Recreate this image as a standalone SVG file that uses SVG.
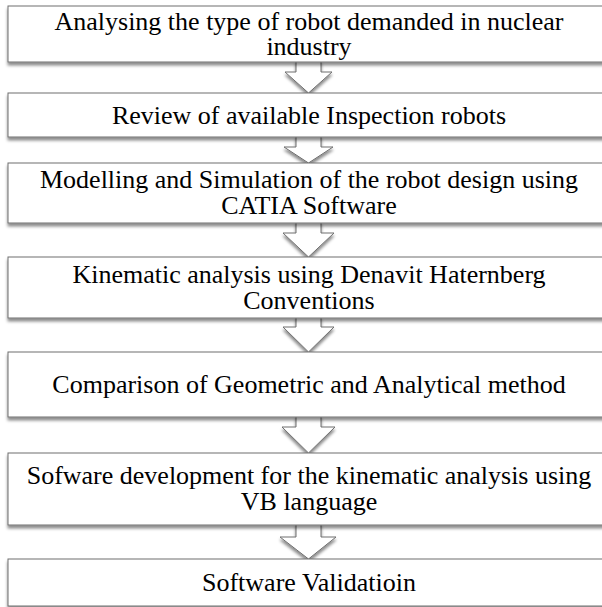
<svg xmlns="http://www.w3.org/2000/svg" width="602" height="607" viewBox="0 0 602 607">
<defs>
<filter id="sh" x="-10%" y="-20%" width="120%" height="160%">
<feDropShadow dx="0" dy="3" stdDeviation="1.8" flood-color="#000" flood-opacity="0.45"/>
</filter>
<style>
.box{fill:#fff;stroke:#6e6e6e;stroke-width:1;filter:url(#sh)}
.arr{fill:#fff;stroke:#6e6e6e;stroke-width:1;filter:url(#sh)}
.t{font-family:"Liberation Serif","Times New Roman",serif;font-size:26px;fill:#000;text-anchor:middle}
</style>
</defs>
<rect width="602" height="607" fill="#fff"/>
<g id="connectors">
<path class="arr" d="M296,60 V72 H285 L308.5,93 L332,72 H321 V60"/>
<path class="arr" d="M296,135 V147 H284 L308.5,163 L333,147 H321 V135"/>
<path class="arr" d="M296,221 V233 H283 L308.5,257 L334,233 H321 V221"/>
<path class="arr" d="M296,316 V327 H283 L308.5,352 L334,327 H321 V316"/>
<path class="arr" d="M296,415 V427 H282 L308.5,453 L335,427 H321 V415"/>
<path class="arr" d="M296,523 V537 H280 L308.5,559 L336,537 H321 V523"/>
</g>
<g id="n1"><rect class="box" x="8" y="6" width="602" height="56"/><text class="t" x="309" y="30">Analysing the type of robot demanded in nuclear</text><text class="t" x="309" y="55">industry</text></g>
<g id="n2"><rect class="box" x="8" y="93" width="602" height="44"/><text class="t" x="309" y="124">Review of available Inspection robots</text></g>
<g id="n3"><rect class="box" x="8" y="163" width="602" height="60"/><text class="t" x="309" y="188">Modelling and Simulation of the robot design using</text><text class="t" x="309" y="214">CATIA Software</text></g>
<g id="n4"><rect class="box" x="8" y="257" width="602" height="61"/><text class="t" x="309" y="283">Kinematic analysis using Denavit Haternberg</text><text class="t" x="309" y="309">Conventions</text></g>
<g id="n5"><rect class="box" x="8" y="352" width="602" height="65"/><text class="t" x="309" y="393">Comparison of Geometric and Analytical method</text></g>
<g id="n6"><rect class="box" x="8" y="453" width="602" height="72"/><text class="t" x="309" y="484">Sofware development for the kinematic analysis using</text><text class="t" x="309" y="510">VB language</text></g>
<g id="n7"><rect class="box" x="8" y="559" width="602" height="47"/><text class="t" x="309" y="591">Software Validatioin</text></g>
</svg>
